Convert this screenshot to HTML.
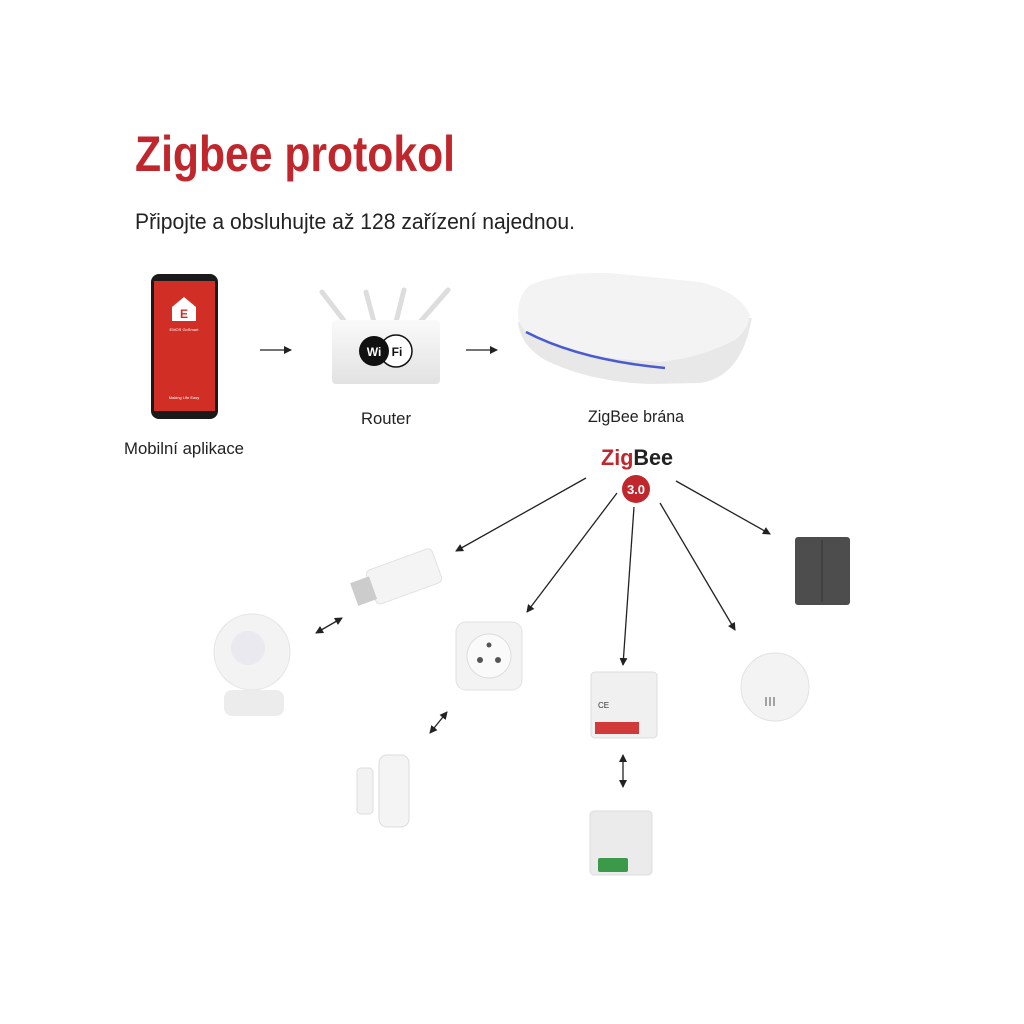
<!DOCTYPE html>
<html><head><meta charset="utf-8"><style>
html,body{margin:0;padding:0;background:#fff;}
svg{display:block}
text{font-family:"Liberation Sans",sans-serif}
</style></head><body>
<svg width="1024" height="1024" viewBox="0 0 1024 1024">
<defs>
<marker id="ah" markerWidth="8" markerHeight="8" refX="7" refY="4" orient="auto" markerUnits="userSpaceOnUse"><path d="M0,0 L8,4 L0,8 z" fill="#222"/></marker>
<marker id="as" markerWidth="8" markerHeight="8" refX="1" refY="4" orient="auto" markerUnits="userSpaceOnUse"><path d="M8,0 L0,4 L8,8 z" fill="#222"/></marker>
<linearGradient id="wg" x1="0" y1="0" x2="0" y2="1"><stop offset="0" stop-color="#fafafa"/><stop offset="1" stop-color="#e2e2e2"/></linearGradient>
</defs>
<text x="135" y="171" font-size="50" font-weight="bold" fill="#c0272d" textLength="320" lengthAdjust="spacingAndGlyphs">Zigbee protokol</text>
<text x="135" y="229" font-size="22" fill="#222" textLength="440" lengthAdjust="spacingAndGlyphs">Připojte a obsluhujte až 128 zařízení najednou.</text>

<!-- phone -->
<rect x="151" y="274" width="67" height="145" rx="8" fill="#1a1a1a"/>
<rect x="154" y="281" width="61" height="130" fill="#d12f26"/>
<path d="M184 297 L196 307 L196 321 L172 321 L172 307 Z" fill="#fff"/>
<text x="184" y="318" font-size="12" font-weight="bold" fill="#d12f26" text-anchor="middle">E</text>
<text x="184" y="331" font-size="4" fill="#fff" text-anchor="middle">EMOS GoSmart</text>
<text x="184" y="399" font-size="4" fill="#fff" text-anchor="middle">Making Life Easy</text>
<text x="184" y="454" font-size="17" fill="#222" text-anchor="middle" textLength="120" lengthAdjust="spacingAndGlyphs">Mobilní aplikace</text>

<line x1="260" y1="350" x2="291" y2="350" stroke="#222" stroke-width="1.3" marker-end="url(#ah)"/>
<line x1="466" y1="350" x2="497" y2="350" stroke="#222" stroke-width="1.3" marker-end="url(#ah)"/>

<!-- router -->
<g stroke="#ddd" stroke-width="5" stroke-linecap="round">
<line x1="322" y1="292" x2="345" y2="322"/><line x1="366" y1="292" x2="374" y2="322"/>
<line x1="404" y1="290" x2="396" y2="322"/><line x1="448" y1="290" x2="420" y2="322"/>
</g>
<rect x="332" y="320" width="108" height="64" rx="4" fill="url(#wg)"/>
<circle cx="396" cy="351" r="16" fill="#fff" stroke="#111" stroke-width="1.5"/>
<circle cx="374" cy="351" r="15" fill="#111"/>
<text x="374" y="356" font-size="12" font-weight="bold" fill="#fff" text-anchor="middle">Wi</text>
<text x="397" y="356" font-size="12" font-weight="bold" fill="#111" text-anchor="middle">Fi</text>
<text x="386" y="424" font-size="17" fill="#222" text-anchor="middle" textLength="50" lengthAdjust="spacingAndGlyphs">Router</text>

<!-- gateway -->
<path d="M518 322 Q520 345 545 360 Q590 382 650 384 L700 383 Q735 378 748 335 L752 318 Z" fill="#e8e8e8"/>
<path d="M530 285 Q560 272 610 273 L700 282 Q740 292 750 315 Q748 330 735 340 Q700 358 660 362 Q580 358 540 340 Q518 330 518 315 Q518 295 530 285 Z" fill="#f3f3f3"/>
<path d="M526 332 Q580 360 665 368" stroke="#4a5bd0" stroke-width="2.5" fill="none"/>
<text x="636" y="422" font-size="17" fill="#222" text-anchor="middle" textLength="96" lengthAdjust="spacingAndGlyphs">ZigBee brána</text>

<text x="601" y="465" font-size="22" font-weight="bold" fill="#c0272d" textLength="72" lengthAdjust="spacingAndGlyphs">Zig<tspan fill="#222">Bee</tspan></text>
<circle cx="636" cy="489" r="14" fill="#c0272d"/>
<text x="636" y="494" font-size="13" font-weight="bold" fill="#fff" text-anchor="middle">3.0</text>

<!-- branch arrows -->
<g stroke="#222" stroke-width="1.3" marker-end="url(#ah)">
<line x1="586" y1="478" x2="456" y2="551"/>
<line x1="617" y1="493" x2="527" y2="612"/>
<line x1="634" y1="507" x2="623" y2="665"/>
<line x1="660" y1="503" x2="735" y2="630"/>
<line x1="676" y1="481" x2="770" y2="534"/>
</g>
<g stroke="#222" stroke-width="1.3" marker-end="url(#ah)" marker-start="url(#as)">
<line x1="316" y1="633" x2="342" y2="618"/>
<line x1="430" y1="733" x2="447" y2="712"/>
<line x1="623" y1="755" x2="623" y2="787"/>
</g>

<!-- usb dongle -->
<g transform="rotate(-20 400 580)">
<rect x="370" y="560" width="70" height="36" rx="5" fill="#f4f4f4" stroke="#e2e2e2"/>
<rect x="352" y="566" width="20" height="24" fill="#ccc"/>
</g>
<!-- PIR sensor -->
<circle cx="252" cy="652" r="38" fill="#f3f3f3" stroke="#e4e4e4"/>
<circle cx="248" cy="648" r="17" fill="#e9e9ef"/>
<rect x="224" y="690" width="60" height="26" rx="8" fill="#ececec"/>
<!-- plug -->
<rect x="456" y="622" width="66" height="68" rx="10" fill="#f3f3f3" stroke="#e2e2e2"/>
<circle cx="489" cy="656" r="22" fill="#fafafa" stroke="#ddd"/>
<circle cx="480" cy="660" r="3" fill="#555"/><circle cx="498" cy="660" r="3" fill="#555"/><circle cx="489" cy="645" r="2.5" fill="#555"/>
<!-- relay module -->
<rect x="591" y="672" width="66" height="66" rx="4" fill="#f0f0f0" stroke="#ddd"/>
<rect x="595" y="722" width="44" height="12" fill="#d23a3a"/>
<text x="598" y="708" font-size="8" fill="#333">CE</text>
<!-- switch -->
<rect x="795" y="537" width="55" height="68" rx="3" fill="#4d4d4d"/>
<line x1="822" y1="540" x2="822" y2="602" stroke="#333"/>
<!-- round sensor -->
<circle cx="775" cy="687" r="34" fill="#f3f3f3" stroke="#e2e2e2"/>
<g stroke="#888" stroke-width="1.5"><line x1="766" y1="697" x2="766" y2="706"/><line x1="770" y1="697" x2="770" y2="706"/><line x1="774" y1="697" x2="774" y2="706"/></g>
<!-- door sensor -->
<rect x="357" y="768" width="16" height="46" rx="4" fill="#f2f2f2" stroke="#ddd"/>
<rect x="379" y="755" width="30" height="72" rx="8" fill="#f4f4f4" stroke="#ddd"/>
<!-- module 2 -->
<rect x="590" y="811" width="62" height="64" rx="4" fill="#ebebeb" stroke="#ddd"/>
<rect x="598" y="858" width="30" height="14" rx="2" fill="#3a9a4a"/>
</svg>
</body></html>
